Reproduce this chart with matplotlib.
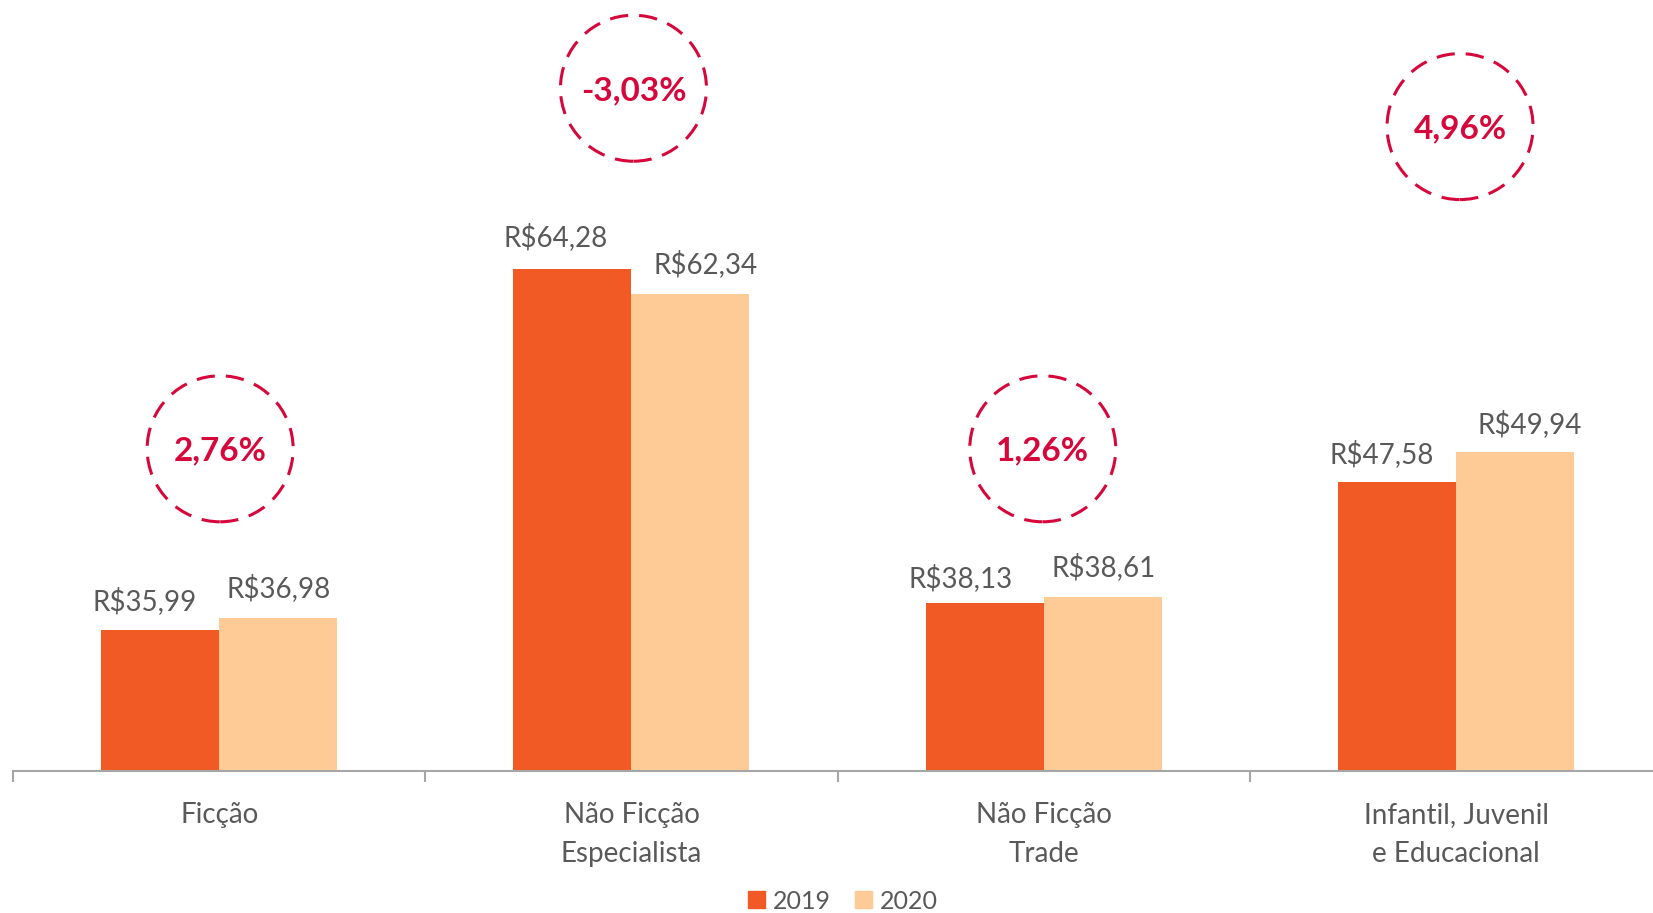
import matplotlib
matplotlib.use("Agg")
import matplotlib.pyplot as plt
from matplotlib.patches import Ellipse, Patch
import numpy as np

categories = ["Ficção", "Não Ficção\nEspecialista", "Não Ficção\nTrade", "Infantil, Juvenil\ne Educacional"]
values_2019 = [35.99, 64.28, 38.13, 47.58]
values_2020 = [36.98, 62.34, 38.61, 49.94]
labels_2019 = ["R$35,99", "R$64,28", "R$38,13", "R$47,58"]
labels_2020 = ["R$36,98", "R$62,34", "R$38,61", "R$49,94"]
changes = ["2,76%", "-3,03%", "1,26%", "4,96%"]
change_y = [50.2, 78.4, 50.2, 75.4]  # vertical position of the circled badges

W, H = 1653, 913
DPI = 100
plt.rcParams['font.family'] = ['Lato', 'DejaVu Sans']

C2019 = "#F15A24"
C2020 = "#FECB96"
TXT = "#595959"
RED = "#D6083B"

fig = plt.figure(figsize=(W / DPI, H / DPI), dpi=DPI)
px_per_unit = 12.786
ymin = 25
ax_bottom_px = 771
ymax = ymin + ax_bottom_px / px_per_unit
cat_w = 412.3
left_px = 13
ax = fig.add_axes([left_px / W, (H - ax_bottom_px) / H, 4 * cat_w / W, ax_bottom_px / H])
ax.set_xlim(-0.5, 3.5)
ax.set_ylim(ymin, ymax)

x = np.arange(len(categories))
bw = 118 / cat_w
b1 = ax.bar(x - bw / 2, values_2019, bw, color=C2019, zorder=2)
b2 = ax.bar(x + bw / 2, values_2020, bw, color=C2020, zorder=2)

# value labels (manual offsets in pixels, as in the original)
dx19 = [-15.5, -16.5, -24, -15]
dy19 = [20, 23, 16, 19]
dx20 = [0.5, 15.5, 0.5, 14.5]
dy20 = [21, 21, 21, 19.5]
pt = 72 / DPI
for i in range(len(categories)):
    ax.annotate(labels_2019[i], (x[i] - bw / 2, values_2019[i]),
                xytext=(dx19[i] * pt, dy19[i] * pt), textcoords="offset points",
                ha="center", va="baseline", fontsize=20, color=TXT)
    ax.annotate(labels_2020[i], (x[i] + bw / 2, values_2020[i]),
                xytext=(dx20[i] * pt, dy20[i] * pt), textcoords="offset points",
                ha="center", va="baseline", fontsize=20, color=TXT)

# dashed circles with change percentages
diam_px = 146
circ_dx_px = [1, 2, -1, 4]
for i in range(len(categories)):
    cx = x[i] + circ_dx_px[i] / cat_w
    e = Ellipse((cx, change_y[i]), diam_px / cat_w, diam_px / px_per_unit,
                fill=False, edgecolor=RED, linewidth=2.2, linestyle=(0, (6, 3.6)),
                zorder=3, clip_on=False)
    ax.add_patch(e)
    ax.text(cx, change_y[i], changes[i], ha="center", va="center_baseline",
            fontsize=24, fontweight="bold", color=RED, zorder=4)

# axes styling
for s in ["top", "right", "left"]:
    ax.spines[s].set_visible(False)
ax.spines["bottom"].set_color("#A6A6A6")
ax.spines["bottom"].set_linewidth(1.5)
ax.set_yticks([])
ax.set_xticks(x)
ax.set_xticklabels(categories, fontsize=20, color=TXT, linespacing=1.62)
ax.tick_params(axis="x", which="major", length=0, pad=22)
ax.set_xticks(np.arange(-0.5, 4.0, 1.0), minor=True)
ax.tick_params(axis="x", which="minor", length=8, width=1.5, color="#A6A6A6")

handles = [Patch(color=C2019, label="2019"), Patch(color=C2020, label="2020")]
fig.legend(handles=handles, loc="center", bbox_to_anchor=(843 / W, 1 - 901 / H),
           ncol=2, frameon=False, fontsize=18, handlelength=0.68, handleheight=0.68,
           handletextpad=0.32, columnspacing=0.96, borderpad=0, labelcolor=TXT)

fig.savefig("out.png", dpi=DPI)
